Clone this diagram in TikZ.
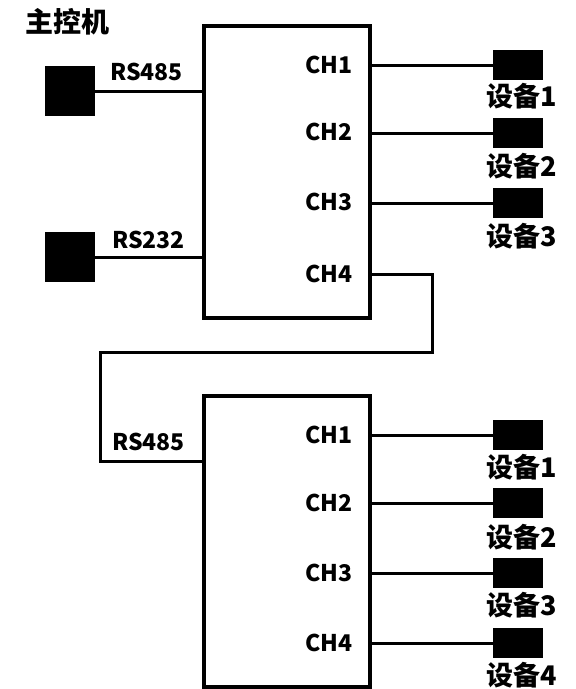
\documentclass[tikz,border=0pt]{standalone}
\usepackage{fontspec}
\setmainfont{Noto Sans CJK SC}
\begin{document}
\begin{tikzpicture}[x=1pt,y=-1pt,
  wire/.style={line width=3pt},
  hub/.style={draw,line width=3.2pt,minimum width=166pt,inner sep=0pt,fill=white},
  term/.style={fill=black,minimum width=50pt,minimum height=50pt,inner sep=0pt},
  dev/.style={fill=black,minimum width=50pt,minimum height=30pt,inner sep=0pt},
  lab/.style={font=\bfseries\fontsize{23}{23}\selectfont,inner sep=0pt},
  devlab/.style={font=\bfseries\fontsize{27}{27}\selectfont,inner sep=0pt},
  chl/.style={lab,anchor=east}]
\useasboundingbox (0,0) rectangle (576,689);
% title
\node[anchor=west,inner sep=0pt,font=\bfseries\fontsize{28}{28}\selectfont] (title) at (25,22) {主控机};
% hubs
\node[hub,minimum height=292pt] (hubA) at (287,172) {};
\node[hub,minimum height=291pt] (hubB) at (287,541.5) {};
% host terminals
\node[term] (t1) at (70,91) {};
\node[term] (t2) at (70,257) {};
\node[lab,anchor=west] (l485a) at (110,72) {RS485};
\node[lab,anchor=west] (l232) at (112,240) {RS232};
\node[lab,anchor=west] (l485b) at (112,442) {RS485};
\draw[wire] (t1.east) -- (t1.east -| hubA.west);
\draw[wire] (t2.east) -- (t2.east -| hubA.west);
% channel labels top
\node[chl] (a1) at (353,65) {CH1};
\node[chl] (a2) at (353,132) {CH2};
\node[chl] (a3) at (353,202) {CH3};
\node[chl] (a4) at (353,274) {CH4};
% channel labels bottom
\node[chl] (b1) at (353,435) {CH1};
\node[chl] (b2) at (353,503) {CH2};
\node[chl] (b3) at (353,573) {CH3};
\node[chl] (b4) at (353,643) {CH4};
% devices top
\node[dev] (da1) at (518,65) {};
\node[dev] (da2) at (518,133) {};
\node[dev] (da3) at (518,203) {};
\node[devlab] (dla1) at (522,96) {设备1};
\node[devlab] (dla2) at (522,166) {设备2};
\node[devlab] (dla3) at (522,236) {设备3};
% devices bottom
\node[dev] (db1) at (518,435) {};
\node[dev] (db2) at (518,503) {};
\node[dev] (db3) at (518,573) {};
\node[dev] (db4) at (518,643) {};
\node[devlab] (dlb1) at (522,467) {设备1};
\node[devlab] (dlb2) at (522,537) {设备2};
\node[devlab] (dlb3) at (522,605) {设备3};
\node[devlab] (dlb4) at (522,675) {设备4};
% channel wires
\foreach \d in {da1,da2,da3} \draw[wire] (\d.west -| hubA.east) -- (\d.west);
\foreach \d in {db1,db2,db3,db4} \draw[wire] (\d.west -| hubB.east) -- (\d.west);
% cascade link
\coordinate (k1) at (432,352);
\coordinate (k2) at (100,352);
\coordinate (k3) at (100,461);
\draw[wire] (a4 -| hubA.east) -| (k1) -- (k2) -- (k3) -- (k3 -| hubB.west);
\end{tikzpicture}
\end{document}
